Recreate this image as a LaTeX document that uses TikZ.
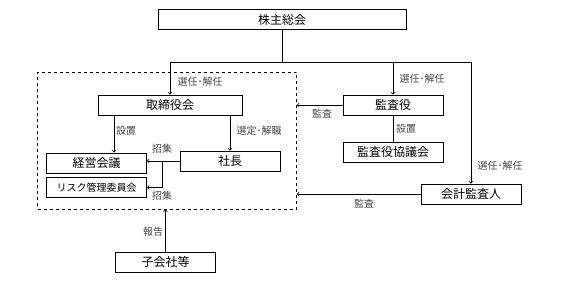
\documentclass[tikz,border=0pt]{standalone}
\usepackage{fontspec}
\setmainfont{Noto Sans CJK JP}
\usepackage{tikz}
\definecolor{labelGray}{RGB}{70, 70, 70}

\begin{document}
\begin{tikzpicture}[x=1pt, y=-1pt,
    box/.style={draw, line width=0.9pt, inner sep=0pt, minimum height=20pt,
      font=\fontsize{12}{14}\selectfont},
    lbl/.style={text=labelGray, inner sep=0pt, font=\fontsize{10}{12}\selectfont},
    conn/.style={line width=0.7pt},
    >=to]
        \useasboundingbox (0,0) rectangle (561,281);
        % boxes
        \node[box, minimum width=248pt] (kabu) at (282,19.5) {株主総会};
        \node[draw, dashed, line width=0.8pt, minimum width=259pt, minimum height=137pt] (grp) at (167,140.5) {};
        \node[box, minimum width=144pt] (tori) at (170,105) {取締役会};
        \node[box, minimum width=100pt] (keiei) at (96.5,163) {経営会議};
        \node[box, minimum width=100pt, font=\fontsize{10}{12}\selectfont] (risk) at (96.5,187.5) {リスク管理委員会};
        \node[box, minimum width=100pt] (shacho) at (230,161) {社長};
        \node[box, minimum width=100pt] (ko) at (165.5,262) {子会社等};
        \node[box, minimum width=100pt] (kansa) at (393,105) {監査役};
        \node[box, minimum width=100pt] (kyogi) at (393,152) {監査役協議会};
        \node[box, minimum width=100pt] (kaikei) at (471,194) {会計監査人};
        \coordinate (split) at (282,62);
        \coordinate (brk) at (162,161);
        % connectors
        \draw[conn] (kabu.south) -- (split);
        \draw[conn,->] (split) -| (tori.north);
        \draw[conn,->] (split) -| (kansa.north);
        \draw[conn,->] (split) -| (kaikei.north);
        \draw[conn,->] ([xshift=-56]tori.south) -- ([xshift=-56]tori.south |- keiei.north);
        \draw[conn,->] (tori.south -| shacho.north) -- (shacho.north);
        \draw[conn,->] (shacho.west) -- (shacho.west -| keiei.east);
        \draw[conn,->] (brk) |- (risk.east);
        \draw[conn,->] (ko.north) -- (ko.north |- grp.south);
        \draw[conn,->] (kansa.west) -- (kansa.west -| grp.east);
        \draw[conn] (kansa.south) -- (kyogi.north);
        \draw[conn,->] (kaikei.west) -- (kaikei.west -| grp.east);
        % labels
        \node[lbl] at (200,82) {選任･解任};
        \node[lbl] at (422,79) {選任･解任};
        \node[lbl] at (500,166) {選任･解任};
        \node[lbl] at (126,131) {設置};
        \node[lbl] at (259,131) {選定･解職};
        \node[lbl] at (406,129) {設置};
        \node[lbl] at (162,149) {招集};
        \node[lbl] at (162,196) {招集};
        \node[lbl] at (153,232) {報告};
        \node[lbl] at (322,114) {監査};
        \node[lbl] at (364,204) {監査};
      \end{tikzpicture}
\end{document}
